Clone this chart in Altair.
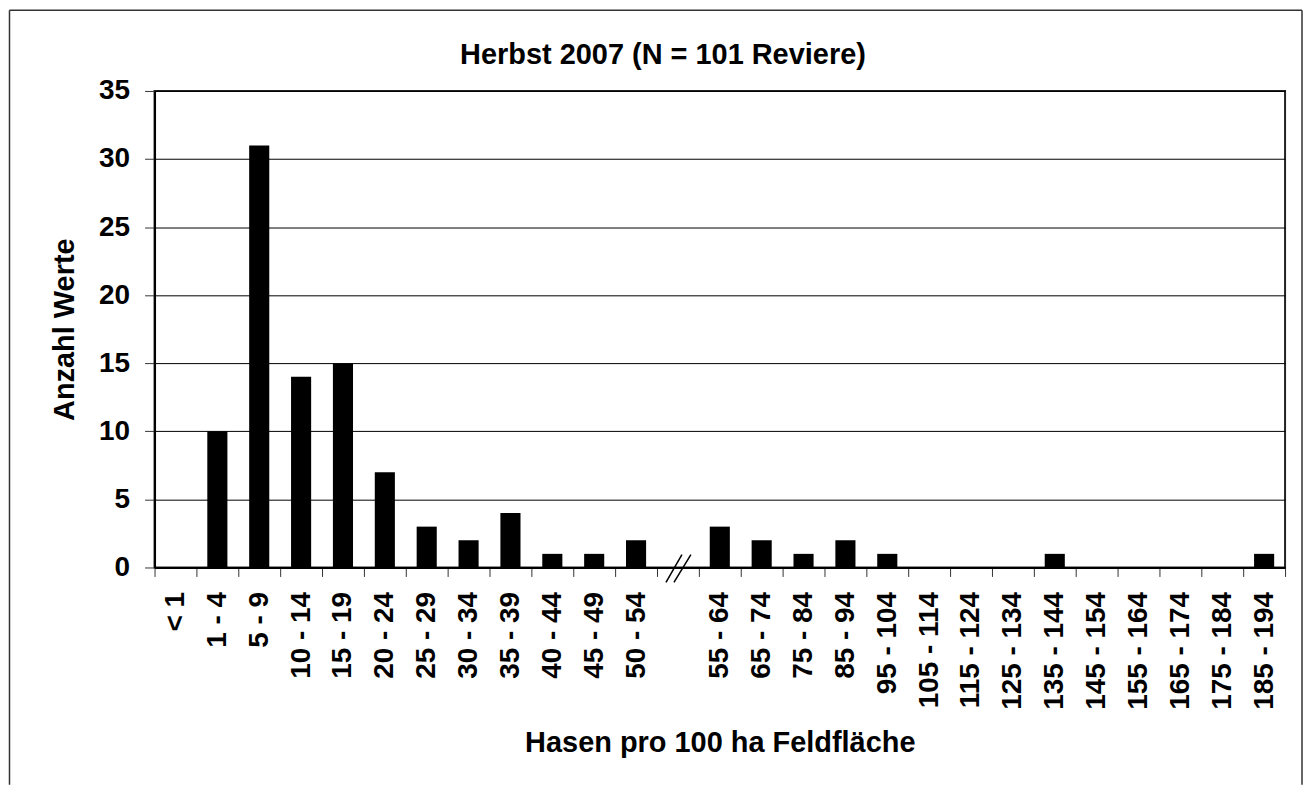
import altair as alt
import pandas as pd

FONT = "Liberation Sans"

chart_title = "Herbst 2007 (N = 101 Reviere)"
x_title = "Hasen pro 100 ha Feldfläche"
y_title = "Anzahl Werte"

gap_label = " "
categories = ["< 1", "1 - 4", "5 - 9", "10 - 14", "15 - 19", "20 - 24", "25 - 29",
              "30 - 34", "35 - 39", "40 - 44", "45 - 49", "50 - 54", gap_label,
              "55 - 64", "65 - 74", "75 - 84", "85 - 94", "95 - 104", "105 - 114",
              "115 - 124", "125 - 134", "135 - 144", "145 - 154", "155 - 164",
              "165 - 174", "175 - 184", "185 - 194"]
counts = [0, 10, 31, 14, 15, 7, 3, 2, 4, 1, 1, 2, None,
          3, 2, 1, 2, 1, 0, 0, 0, 1, 0, 0, 0, 0, 1]
y_ticks = [0, 5, 10, 15, 20, 25, 30, 35]

W, H = 1134, 478

df = pd.DataFrame({"Klasse": categories, "Anzahl": counts})

x_scale = alt.Scale(domain=categories, paddingInner=0, paddingOuter=0)
y_scale = alt.Scale(domain=[0, 35], nice=False)

x_axis = alt.Axis(
    title=x_title, labelAngle=-90, labelFont=FONT, labelFontSize=28,
    labelFontWeight="bold", labelColor="black", labelPadding=15,
    labelOverlap=False, labelLimit=400, tickBand="extent", tickSize=9,
    tickColor="#333", tickWidth=1, domainColor="black", domainWidth=2,
    titleFont=FONT, titleFontSize=29, titleFontWeight="bold", titleColor="black",
    titleBaseline="alphabetic", titleY=185, grid=False,
)
y_axis = alt.Axis(
    title=y_title, values=y_ticks, labelFont=FONT, labelFontSize=28,
    labelFontWeight="bold", labelColor="black", labelPadding=15,
    tickSize=10, tickColor="#333", tickWidth=1, domainColor="black",
    domainWidth=2, grid=True, gridColor="black", gridWidth=1,
    titleFont=FONT, titleFontSize=29, titleFontWeight="bold", titleColor="black",
    titleAngle=270, titleBaseline="alphabetic", titleX=-81, titleY=H / 2,
)

bars = alt.Chart(df).mark_bar(color="black", width=alt.RelativeBandSize(0.48)).encode(
    x=alt.X("Klasse:N", scale=x_scale, axis=x_axis, sort=categories),
    y=alt.Y("Anzahl:Q", scale=y_scale, axis=y_axis),
)

brk_df = pd.DataFrame({"Klasse": [gap_label], "Anzahl": [0]})
slash1 = alt.Chart(brk_df).mark_rule(
    color="black", strokeWidth=1.5, xOffset=-12, x2Offset=4, yOffset=15, y2Offset=-13
).encode(
    x=alt.X("Klasse:N", scale=x_scale, sort=categories),
    x2=alt.X2("Klasse"),
    y=alt.Y("Anzahl:Q", scale=y_scale),
    y2=alt.Y2("Anzahl"),
)
slash2 = alt.Chart(brk_df).mark_rule(
    color="black", strokeWidth=1.5, xOffset=-4, x2Offset=13, yOffset=15, y2Offset=-13
).encode(
    x=alt.X("Klasse:N", scale=x_scale, sort=categories),
    x2=alt.X2("Klasse"),
    y=alt.Y("Anzahl:Q", scale=y_scale),
    y2=alt.Y2("Anzahl"),
)

title_df = pd.DataFrame({"t": [chart_title]})
title_layer = alt.Chart(title_df).mark_text(
    font=FONT, fontSize=29, fontWeight="bold", align="center",
    baseline="alphabetic", color="black"
).encode(x=alt.value(510), y=alt.value(-27), text="t:N")

one = pd.DataFrame({"k": [0]})
frame_left = alt.Chart(one).mark_rule(color="#333", strokeWidth=1.5).encode(
    x=alt.value(-145.5), y=alt.value(-81), y2=alt.value(696))
frame_top = alt.Chart(one).mark_rule(color="#333", strokeWidth=1.5).encode(
    x=alt.value(-145.5), x2=alt.value(1151), y=alt.value(-81))
frame_right = alt.Chart(one).mark_rule(color="#333", strokeWidth=1.5).encode(
    x=alt.value(1151), y=alt.value(-81), y2=alt.value(696))

chart = alt.layer(
    bars, slash1, slash2, title_layer, frame_left, frame_top, frame_right
).properties(
    width=W, height=H, padding=0, background="white"
).configure_view(
    stroke="#222", strokeWidth=2
)

chart.save("out.html", embed_options={"renderer": "svg", "actions": False})
